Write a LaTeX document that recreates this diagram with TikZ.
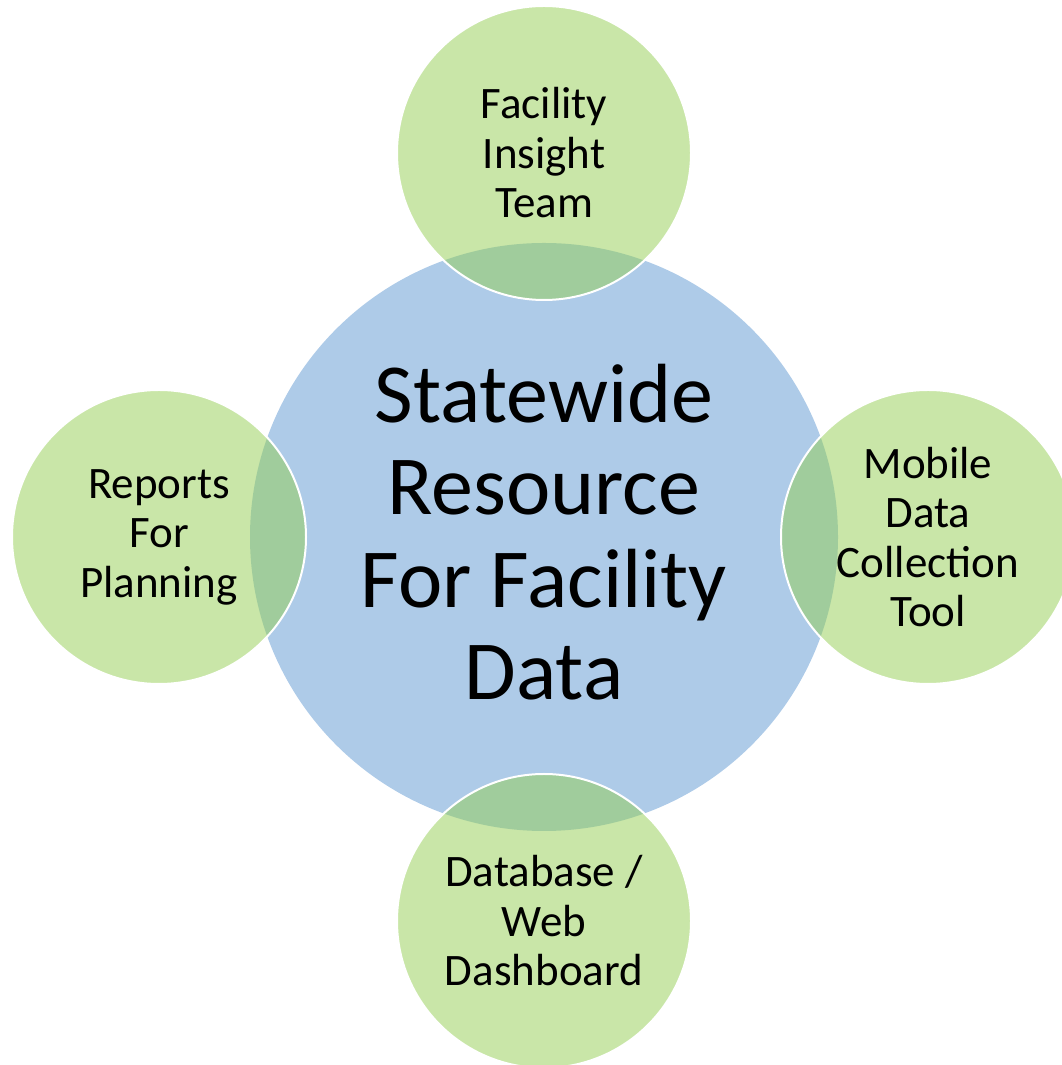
\documentclass[tikz,border=0pt]{standalone}
\usepackage{fontspec}
\setmainfont{Carlito}
\usepackage{xcolor}
\usepackage{tikz}
\usetikzlibrary{positioning}
\definecolor{hubblue}{RGB}{174,203,232}
\definecolor{spokegreen}{RGB}{147,205,81}
\tikzset{
    hubnode/.style = {circle, fill=hubblue, align=center, inner sep=0pt, minimum size=588pt, text depth=10pt, font=\fontsize{84}{92.5}\selectfont},
    spokenode/.style = {circle, draw=white, line width=2pt, fill=spokegreen, fill opacity=0.5, text opacity=1, align=center, inner sep=0pt, minimum size=294pt, font=\fontsize{45}{49.5}\selectfont},
}
\begin{document}
\begin{tikzpicture}[x=1pt,y=1pt]
\useasboundingbox (0,0) rectangle (1062,1065);
\clip (0,0) rectangle (1062,1065);
\node[hubnode] at (544,528) (hub) {Statewide\\Resource\\For Facility\\Data};
%
\node[spokenode] at (544,912) (team) {Facility\\Insight\\Team};
\node[spokenode] at (928,528) (tool) {Mobile\\Data\\Collection\\Tool};
\node[spokenode] at (544,144) (dash) {Database /\\Web\\Dashboard};
\node[spokenode] at (159,528) (plan) {Reports\\For\\Planning};
\end{tikzpicture}
\end{document}
